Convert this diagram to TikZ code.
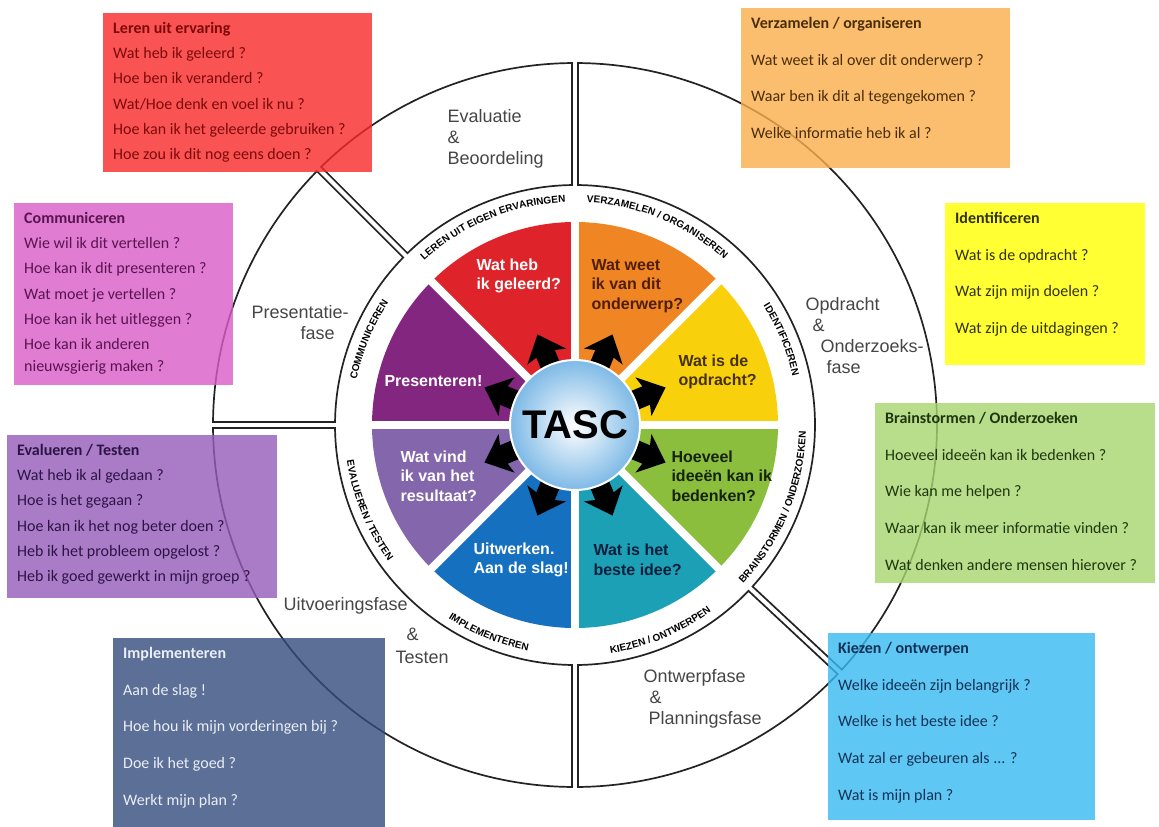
\documentclass[tikz,border=0pt]{standalone}
\usepackage{fontspec}
\setmainfont{Liberation Sans}
\newfontfamily\qfont{Carlito}
\usetikzlibrary{calc,decorations.text}

% wheel colours
\definecolor{ringgray}{RGB}{35,35,35}
\definecolor{phasegray}{RGB}{70,70,70}
\definecolor{secred}{RGB}{222,36,42}
\definecolor{secorange}{RGB}{240,133,35}
\definecolor{secyellow}{RGB}{249,208,12}
\definecolor{secgreen}{RGB}{140,190,62}
\definecolor{secteal}{RGB}{28,160,182}
\definecolor{secblue}{RGB}{22,112,192}
\definecolor{seclav}{RGB}{132,102,172}
\definecolor{secpurple}{RGB}{130,38,128}
\definecolor{tascblue}{RGB}{125,185,230}
\definecolor{txtorg}{RGB}{80,30,5}
\definecolor{txtyel}{RGB}{70,50,0}
\definecolor{txtgrn}{RGB}{20,35,10}
\definecolor{txtteal}{RGB}{10,30,60}
% question boxes
\definecolor{boxred}{RGB}{249,40,40}
\definecolor{boxorange}{RGB}{251,174,74}
\definecolor{boxpink}{RGB}{217,92,199}
\definecolor{boxyellow}{RGB}{255,255,0}
\definecolor{boxpurple}{RGB}{149,92,186}
\definecolor{boxgreen}{RGB}{168,214,111}
\definecolor{boxslate}{RGB}{51,76,126}
\definecolor{boxblue}{RGB}{55,186,242}
\definecolor{qred}{RGB}{125,10,10}
\definecolor{qorange}{RGB}{75,45,10}
\definecolor{qpink}{RGB}{90,20,80}
\definecolor{qyellow}{RGB}{50,50,10}
\definecolor{qpurple}{RGB}{45,20,70}
\definecolor{qgreen}{RGB}{30,55,15}
\definecolor{qslate}{RGB}{235,238,245}
\definecolor{qblue}{RGB}{20,50,85}

\newcommand{\ringfont}{\bfseries\fontsize{10}{12}\selectfont}
\newcommand{\qtight}{\qfont\fontsize{16}{25.2}\selectfont}
\newcommand{\qloose}{\qfont\fontsize{16}{36.7}\selectfont}

\begin{document}
\begin{tikzpicture}[x=1pt,y=1pt,
  ringline/.style={draw=ringgray, line width=1.7pt, fill=white},
  gapline/.style={white, line width=8pt},
  qbox/.style={anchor=north west, inner xsep=10pt, inner ysep=9pt,
    fill opacity=0.8, text opacity=1},
  phase/.style={anchor=west, align=left, text=phasegray,
    font=\fontsize{18}{21}\selectfont},
  sector/.style={anchor=west, align=left,
    font=\bfseries\fontsize{16}{19.5}\selectfont},
  ringtext/.style={decorate, decoration={text along path,
    text align=center, text={|\ringfont|#1}}}
  ]
\useasboundingbox (0,0) rectangle (1159,-827);
\fill[white] (0,0) rectangle (1159,-827);
\coordinate (c) at (575,-425);

% outer phase ring
\foreach \a/\b in {90/135,135/180,180/270,270/317,-43/90} {
  \pgfmathsetmacro\ai{\a+0.72}\pgfmathsetmacro\ao{\a+0.48}
  \pgfmathsetmacro\bi{\b-0.72}\pgfmathsetmacro\bo{\b-0.48}
  \draw[ringline] ([shift={(\ai:240pt)}]c) -- ([shift={(\ao:362pt)}]c)
    arc[start angle=\ao, end angle=\bo, radius=362pt]
    -- ([shift={(\bi:240pt)}]c)
    arc[start angle=\bi, end angle=\ai, radius=240pt] -- cycle;
}

% coloured sectors
\foreach \col [count=\i from 0, evaluate=\i as \sa using \i*45,
    evaluate=\i as \ea using \i*45+45] in
    {secyellow,secorange,secred,secpurple,seclav,secblue,secteal,secgreen}
  \fill[\col] (c) -- ([shift={(\sa:203pt)}]c)
    arc[start angle=\sa, end angle=\ea, radius=203pt] -- cycle;
\foreach \a in {0,45,...,315}
  \draw[gapline] (c) -- ([shift={(\a:212pt)}]c);

% arrows out of the centre
\foreach \a in {22.5,67.5,...,337.5}
  \fill[black, shift={(c)}, rotate=\a] (55,-10) -- (77,-10) -- (74,-21)
    -- (98,0) -- (74,21) -- (77,10) -- (55,10) -- cycle;

\node[circle, minimum size=130pt, inner color=white, outer color=tascblue,
  draw=white, line width=2pt, font=\bfseries\fontsize{40}{40}\selectfont]
  (tasc) at (c) {TASC};

% ring labels
\path[ringtext={LEREN UIT EIGEN ERVARINGEN}] ([shift={(135:223pt)}]c)
  arc[start angle=135, end angle=90, radius=223pt];
\path[ringtext={VERZAMELEN / ORGANISEREN}] ([shift={(90:223pt)}]c)
  arc[start angle=90, end angle=45, radius=223pt];
\path[ringtext={IDENTIFICEREN}] ([shift={(45:223pt)}]c)
  arc[start angle=45, end angle=0, radius=223pt];
\path[ringtext={COMMUNICEREN}] ([shift={(180:223pt)}]c)
  arc[start angle=180, end angle=135, radius=223pt];
\path[ringtext={BRAINSTORMEN / ONDERZOEKEN}] ([shift={(-45:231pt)}]c)
  arc[start angle=-45, end angle=0, radius=231pt];
\path[ringtext={KIEZEN / ONTWERPEN}] ([shift={(-90:231pt)}]c)
  arc[start angle=-90, end angle=-45, radius=231pt];
\path[ringtext={IMPLEMENTEREN}] ([shift={(-135:231pt)}]c)
  arc[start angle=-135, end angle=-90, radius=231pt];
\path[ringtext={EVALUEREN / TESTEN}] ([shift={(180:231pt)}]c)
  arc[start angle=180, end angle=225, radius=231pt];

% sector texts
\node[sector, text=white] (lbred) at (473,-276) {Wat heb\\ik geleerd?};
\node[sector, text=txtorg] (lborange) at (588,-286) {Wat weet\\ik van dit\\onderwerp?};
\node[sector, text=txtyel] (lbyellow) at (675,-372) {Wat is de\\opdracht?};
\node[sector, text=txtgrn] (lbgreen) at (668,-476) {Hoeveel\\ideeën kan ik\\bedenken?};
\node[sector, text=txtteal] (lbteal) at (590,-560) {Wat is het\\beste idee?};
\node[sector, text=white] (lbblue) at (470,-560) {Uitwerken.\\Aan de slag!};
\node[sector, text=white] (lblav) at (397,-476) {Wat vind\\ik van het\\resultaat?};
\node[sector, text=white] (lbpurple) at (381,-381) {Presenteren!};

% phase names
\node[phase] (evalfase) at (444,-139) {Evaluatie\\\&\\Beoordeling};
\node[phase] (opdrfase) at (802,-336) {Opdracht\\\hspace*{7pt}\&\\\hspace*{15pt}Onderzoeks-\\\hspace*{21pt}fase};
\node[phase] (presfase) at (248,-323) {Presentatie-\\\hspace*{49pt}fase};
\node[phase] (uitvfase) at (280,-631) {Uitvoeringsfase\\[9pt]\hspace*{123pt}\&\\[2pt]\hspace*{112pt}Testen};
\node[phase] (ontwfase) at (640,-699) {Ontwerpfase\\\hspace*{6pt}\&\\\hspace*{5pt}Planningsfase};

% question boxes
\node[qbox, fill=boxred, text=qred] (leren) at (103,-13)
  {\parbox[c][141pt][t]{249pt}{\qtight\textbf{Leren uit ervaring}\\Wat heb ik geleerd ?\\Hoe ben ik veranderd ?\\Wat/Hoe denk en voel ik nu ?\\Hoe kan ik het geleerde gebruiken ?\\Hoe zou ik dit nog eens doen ?}};
\node[qbox, fill=boxorange, text=qorange] (verzamelen) at (741,-8)
  {\parbox[c][142pt][t]{249pt}{\qloose\textbf{Verzamelen / organiseren}\\Wat weet ik al over dit onderwerp ?\\Waar ben ik dit al tegengekomen ?\\Welke informatie heb ik al ?}};
\node[qbox, fill=boxpink, text=qpink] (communiceren) at (14,-203)
  {\parbox[c][164pt][t]{199pt}{\qtight\textbf{Communiceren}\\Wie wil ik dit vertellen ?\\Hoe kan ik dit presenteren ?\\Wat moet je vertellen ?\\Hoe kan ik het uitleggen ?\\Hoe kan ik anderen\\[-3pt]nieuwsgierig maken ?}};
\node[qbox, fill=boxyellow, text=qyellow] (identificeren) at (945,-203)
  {\parbox[c][144pt][t]{180pt}{\qloose\textbf{Identificeren}\\Wat is de opdracht ?\\Wat zijn mijn doelen ?\\Wat zijn de uitdagingen ?}};
\node[qbox, fill=boxpurple, text=qpurple] (evalueren) at (7,-435)
  {\parbox[c][145pt][t]{250pt}{\qtight\textbf{Evalueren / Testen}\\Wat heb ik al gedaan ?\\Hoe is het gegaan ?\\Hoe kan ik het nog beter doen ?\\Heb ik het probleem opgelost ?\\Heb ik goed gewerkt in mijn groep ?}};
\node[qbox, fill=boxgreen, text=qgreen] (brainstormen) at (875,-403)
  {\parbox[c][162pt][t]{260pt}{\qloose\textbf{Brainstormen / Onderzoeken}\\Hoeveel ideeën kan ik bedenken ?\\Wie kan me helpen ?\\Waar kan ik meer informatie vinden ?\\Wat denken andere mensen hierover ?}};
\node[qbox, fill=boxslate, text=qslate] (implementeren) at (113,-638)
  {\parbox[c][171pt][t]{252pt}{\qloose\textbf{Implementeren}\\Aan de slag !\\Hoe hou ik mijn vorderingen bij ?\\Doe ik het goed ?\\Werkt mijn plan ?}};
\node[qbox, fill=boxblue, text=qblue] (kiezen) at (828,-633)
  {\parbox[c][169pt][t]{247pt}{\qloose\textbf{Kiezen / ontwerpen}\\Welke ideeën zijn belangrijk ?\\Welke is het beste idee ?\\Wat zal er gebeuren als ... ?\\Wat is mijn plan ?}};
\end{tikzpicture}
\end{document}
